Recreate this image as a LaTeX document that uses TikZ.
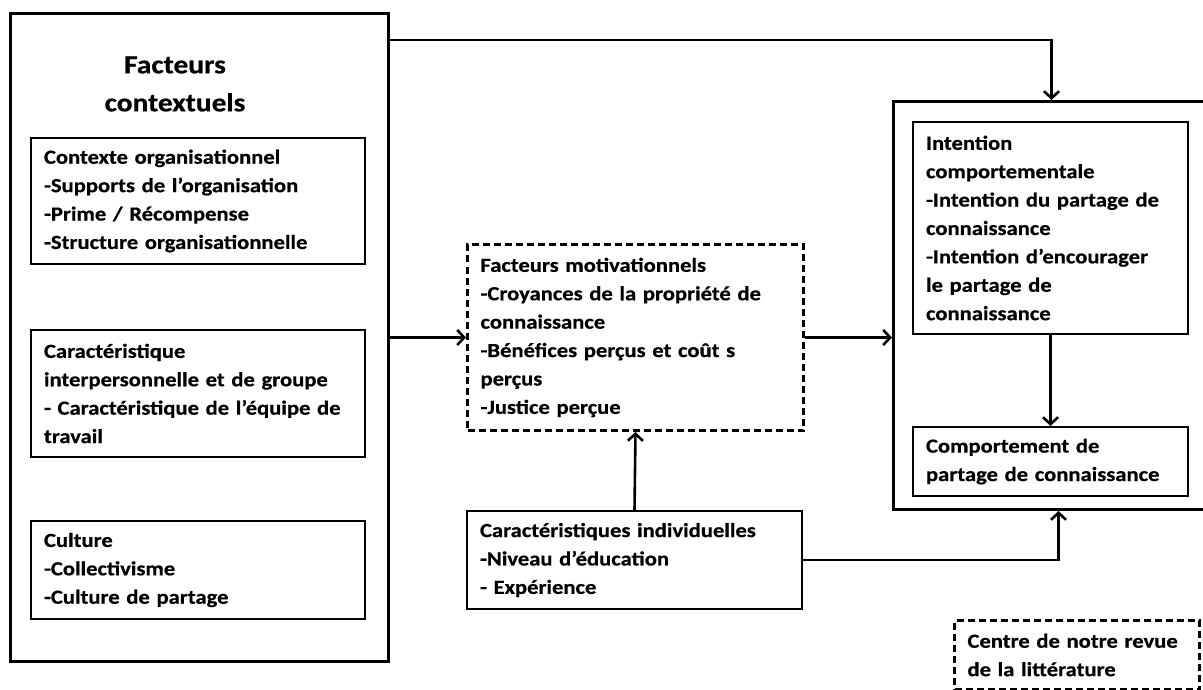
\documentclass[tikz,border=0pt]{standalone}
\usepackage{fontspec}
\setmainfont{Carlito}[FakeStretch=1.13, WordSpace=0.7, BoldFeatures={FakeBold=0.6}]
\usetikzlibrary{arrows.meta,positioning,calc}
\tikzset{
  body/.style={font=\fontsize{20}{28.4}\selectfont\bfseries},
  inbox/.style={draw, line width=2pt, rectangle, align=left, inner xsep=13pt, inner ysep=0pt, anchor=north west, body},
  dbox/.style={inbox, line width=3pt, dash pattern=on 7pt off 4pt},
  outer/.style={draw, line width=3pt, rectangle, inner sep=0pt, anchor=north west},
  arr/.style={line width=2.6pt, -{Straight Barb[length=7pt,width=15pt]}}
}
\begin{document}
\begin{tikzpicture}[x=1pt,y=-1pt]
\useasboundingbox (0,0) rectangle (1203,690);
% outer boxes
\node[outer, minimum width=378pt, minimum height=648pt] (ctx) at (9,12) {};
\node[outer, minimum width=316pt, minimum height=408pt] (focus) at (892,100) {};
% title
\node[font=\fontsize{26}{38}\selectfont\bfseries, align=center] (ctxtitle) at (175,84) {Facteurs\\contextuels};
% inner boxes
\node[inbox, text width=308pt, minimum height=126pt] (org) at (30,137)
  {\mbox{Contexte organisationnel}\\\mbox{-Supports de l’organisation}\\\mbox{-Prime / Récompense}\\\mbox{-Structure organisationnelle}};
\node[inbox, text width=308pt, minimum height=127pt] (grp) at (30,329)
  {\mbox{Caractéristique}\\\mbox{interpersonnelle et de groupe}\\\mbox{- Caractéristique de l’équipe de}\\\mbox{travail}};
\node[inbox, text width=308pt, minimum height=98pt] (cul) at (30,520)
  {\mbox{Culture}\\\mbox{-Collectivisme}\\\mbox{-Culture de partage}};
\node[dbox, text width=310pt, minimum height=186pt] (mot) at (466,243)
  {\mbox{Facteurs motivationnels}\\\mbox{-Croyances de la propriété de}\\\mbox{connaissance}\\\mbox{-Bénéfices perçus et coût s}\\\mbox{perçus}\\\mbox{-Justice perçue}};
\node[inbox, text width=309pt, minimum height=98pt] (ind) at (466,510)
  {\mbox{Caractéristiques individuelles}\\\mbox{-Niveau d’éducation}\\\mbox{- Expérience}};
\node[inbox, text width=249pt, minimum height=212pt] (int) at (912,121)
  {\mbox{Intention}\\\mbox{comportementale}\\\mbox{-Intention du partage de}\\\mbox{connaissance}\\\mbox{-Intention d’encourager}\\\mbox{le partage de}\\\mbox{connaissance}};
\node[inbox, text width=249pt, minimum height=69pt] (com) at (912,426)
  {\mbox{Comportement de}\\\mbox{partage de connaissance}};
\node[dbox, text width=219pt, minimum height=69pt] (ctr) at (953,619)
  {\mbox{Centre de notre revue}\\\mbox{de la littérature}};
% connectors
\draw[arr] ([yshift=-28pt]ctx.north east) -| (focus.north);
\draw[arr] (ctx.east |- mot.west) -- (mot.west);
\draw[arr] (mot.east) -- (mot.east -| focus.west);
\draw[arr] (ind.north) -- (mot.south);
\draw[arr] (ind.east) -| ([xshift=7pt]focus.south);
\draw[arr] (int.south) -- (com.north);
\end{tikzpicture}
\end{document}
